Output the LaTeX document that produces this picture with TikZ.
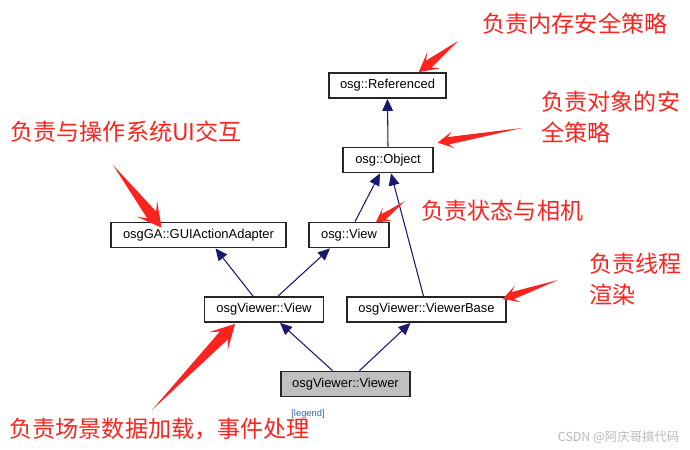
\documentclass[tikz,border=0pt]{standalone}
\usepackage{fontspec}
\setmainfont{Liberation Sans}
\newfontfamily\cjk{Noto Sans CJK SC}
\usetikzlibrary{arrows.meta,calc,positioning}

\definecolor{markred}{RGB}{250,35,30}
\definecolor{edgeblue}{RGB}{25,25,112}
\definecolor{legendblue}{RGB}{60,90,190}
\definecolor{boxgray}{RGB}{191,191,191}

% tapered red marker arrow: [size]{tail}{tip}
\newcommand{\redarrow}[3][1]{%
  \coordinate (rn) at ($(#3)!{#1*8pt}!(#2)$);
  \coordinate (rh) at ($(#3)!{#1*12pt}!(#2)$);
  \fill[markred] (#2) -- ($(rn)!{#1*2.8pt}!90:(#3)$) -- ($(rh)!{#1*6.5pt}!90:(#3)$) -- (#3)
    -- ($(rh)!{#1*6.5pt}!-90:(#3)$) -- ($(rn)!{#1*2.8pt}!-90:(#3)$) -- cycle;
}

\tikzset{
  cls/.style={draw=black!85, line width=1.1pt, fill=white, minimum height=19pt,
    inner xsep=0pt, font=\fontsize{9.7}{11}\selectfont},
  inherit/.style={edgeblue, line width=0.8pt, -{Triangle[length=9pt,width=8pt]}},
  note/.style={markred, anchor=west, align=left, font=\cjk\fontsize{17.3}{23}\selectfont},
}

\begin{document}
\begin{tikzpicture}[x=0.75pt,y=-0.75pt]
    \useasboundingbox (0,0) rectangle (690,450);

    % Classes
    \node[cls, minimum width=87.75pt] (referenced) at (387.5,85.5) {osg::Referenced};
    \node[cls, minimum width=67.5pt] (object) at (388,160) {osg::Object};
    \node[cls, minimum width=131pt] (guiadapter) at (198.5,235) {osgGA::GUIActionAdapter};
    \node[cls, minimum width=60pt] (osgview) at (349,235) {osg::View};
    \node[cls, minimum width=89pt] (viewerview) at (264,309.5) {osgViewer::View};
    \node[cls, minimum width=119pt] (viewerbase) at (426.5,309.5) {osgViewer::ViewerBase};
    \node[cls, minimum width=97pt, fill=boxgray] (viewer) at (345.5,384) {osgViewer::Viewer};
    \node[legendblue, font=\fontsize{7}{8}\selectfont, inner sep=0pt] (legend) at (308,414) {[legend]};

    % Inheritance
    \draw[inherit] (object.north) -- (referenced.south);
    \draw[inherit] ($(osgview.north)+(6,0)$) -- ($(object.south)+(-8,0)$);
    \draw[inherit] ($(viewerbase.north)+(-3,0)$) -- ($(object.south)+(3,0)$);
    \draw[inherit] ($(viewerview.north)+(-11,0)$) -- ($(guiadapter.south)+(17,0)$);
    \draw[inherit] ($(viewerview.north)+(14,0)$) -- ($(osgview.south)+(-19,0)$);
    \draw[inherit] ($(viewer.north)+(-13,0)$) -- ($(viewerview.south)+(16,0)$);
    \draw[inherit] ($(viewer.north)+(14,0)$) -- ($(viewerbase.south)+(-16,0)$);

    % Notes
    \node[note] (noteref) at (478,24) {负责内存安全策略};
    \node[note] (noteobj) at (537,117) {负责对象的安\\全策略};
    \node[note] (notegui) at (6,132) {负责与操作系统UI交互};
    \node[note] (noteview) at (417,211) {负责状态与相机};
    \node[note] (notebase) at (585,279) {负责线程\\渲染};
    \node[note] (noteviewer) at (5,429) {负责场景数据加载，事件处理};
    \node[gray!55, anchor=east, font=\cjk\fontsize{9.3}{11}\selectfont] (mark) at (684,437) {CSDN @阿庆哥搞代码};

    % Marker arrows
    \coordinate (tref) at (458,41);
    \coordinate (tobj) at (522,128);
    \coordinate (tgui) at (113,165);
    \coordinate (tview) at (405,201);
    \coordinate (tbase) at (558,280);
    \coordinate (tviewer) at (152,410);
    \redarrow[1.2]{tref}{$(referenced.north east)+(-28,0)$}
    \redarrow{tobj}{$(object.north east)+(4,-4)$}
    \redarrow[1.5]{tgui}{$(guiadapter.north)+(-37,6)$}
    \redarrow[0.9]{tview}{$(osgview.north east)+(-14,1)$}
    \redarrow{tbase}{$(viewerbase.north east)+(-4,3)$}
    \redarrow[1.5]{tviewer}{$(viewerview.south)+(-29,1)$}
\end{tikzpicture}
\end{document}
